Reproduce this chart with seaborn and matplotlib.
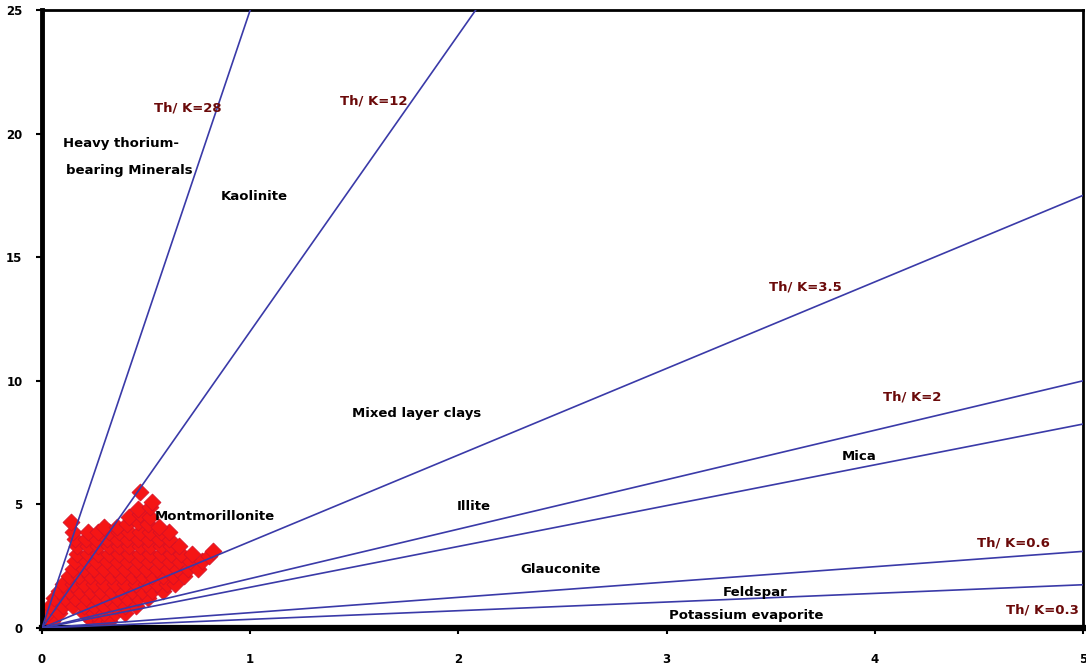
import matplotlib
matplotlib.use("Agg")
import matplotlib.pyplot as plt
import seaborn as sns
import numpy as np
import pandas as pd

# Th/K ratio reference lines
ratios = [25, 12, 3.5, 2, 1.65, 0.62, 0.35]
ratio_labels = ["Th/ K=28", "Th/ K=12", "Th/ K=3.5", "Th/ K=2", "Th/ K=0.6", "Th/ K=0.3"]
ratio_label_x = [0.54, 1.43, 3.49, 4.04, 4.49, 4.63]
ratio_label_y = [21.05, 21.3, 13.8, 9.35, 3.44, 0.73]

minerals = ["Heavy thorium-", "bearing Minerals", "Kaolinite", "Mixed layer clays", "Mica",
            "Illite", "Montmorillonite", "Glauconite", "Feldspar", "Potassium evaporite"]
mineral_x = [0.10, 0.115, 0.86, 1.49, 3.84, 1.99, 0.54, 2.30, 3.27, 3.01]
mineral_y = [19.6, 18.5, 17.45, 8.66, 6.92, 4.9, 4.53, 2.35, 1.42, 0.49]

# sample points (K %, Th ppm) read row by row
K = [0.02, 0.05, 0.24, 0.28, 0.32,
     0.03, 0.08, 0.20, 0.25, 0.30, 0.35, 0.40,
     0.04, 0.10, 0.15, 0.20, 0.25, 0.30, 0.35, 0.40, 0.45,
     0.06, 0.11, 0.16, 0.21, 0.26, 0.31, 0.36, 0.41, 0.46, 0.51,
     0.08, 0.13, 0.18, 0.23, 0.28, 0.33, 0.38, 0.43, 0.48, 0.53, 0.58,
     0.10, 0.15, 0.20, 0.25, 0.30, 0.35, 0.40, 0.45, 0.50, 0.55, 0.60, 0.64,
     0.13, 0.18, 0.23, 0.28, 0.33, 0.38, 0.43, 0.48, 0.53, 0.58, 0.63, 0.68,
     0.15, 0.20, 0.25, 0.30, 0.35, 0.40, 0.45, 0.50, 0.55, 0.60, 0.65, 0.70, 0.75,
     0.16, 0.21, 0.26, 0.31, 0.36, 0.41, 0.46, 0.51, 0.56, 0.61, 0.66, 0.71, 0.77, 0.80,
     0.17, 0.22, 0.27, 0.32, 0.37, 0.42, 0.47, 0.52, 0.57, 0.62, 0.67, 0.72, 0.82,
     0.17, 0.22, 0.27, 0.32, 0.37, 0.42, 0.47, 0.52, 0.57, 0.62, 0.66,
     0.16, 0.21, 0.26, 0.31, 0.36, 0.41, 0.46, 0.51, 0.56, 0.61,
     0.15, 0.22, 0.27, 0.32, 0.37, 0.42, 0.47, 0.52, 0.57, 0.61,
     0.14, 0.30, 0.36, 0.41, 0.46, 0.51, 0.56,
     0.42, 0.47, 0.52,
     0.46, 0.52,
     0.53,
     0.47]
Th = [0.3, 0.3, 0.3, 0.3, 0.3,
      0.6, 0.6, 0.6, 0.6, 0.6, 0.6, 0.6,
      0.9, 0.9, 0.9, 0.9, 0.9, 0.9, 0.9, 0.9, 0.9,
      1.2, 1.2, 1.2, 1.2, 1.2, 1.2, 1.2, 1.2, 1.2, 1.2,
      1.5, 1.5, 1.5, 1.5, 1.5, 1.5, 1.5, 1.5, 1.5, 1.5, 1.5,
      1.8, 1.8, 1.8, 1.8, 1.8, 1.8, 1.8, 1.8, 1.8, 1.8, 1.8, 1.8,
      2.1, 2.1, 2.1, 2.1, 2.1, 2.1, 2.1, 2.1, 2.1, 2.1, 2.1, 2.1,
      2.4, 2.4, 2.4, 2.4, 2.4, 2.4, 2.4, 2.4, 2.4, 2.4, 2.4, 2.4, 2.4,
      2.7, 2.7, 2.7, 2.7, 2.7, 2.7, 2.7, 2.7, 2.7, 2.7, 2.7, 2.7, 2.7, 2.9,
      3.0, 3.0, 3.0, 3.0, 3.0, 3.0, 3.0, 3.0, 3.0, 3.0, 3.0, 3.0, 3.1,
      3.3, 3.3, 3.3, 3.3, 3.3, 3.3, 3.3, 3.3, 3.3, 3.3, 3.3,
      3.6, 3.6, 3.6, 3.6, 3.6, 3.6, 3.6, 3.6, 3.6, 3.6,
      3.9, 3.9, 3.9, 3.9, 3.9, 3.9, 3.9, 3.9, 3.9, 3.9,
      4.3, 4.1, 4.1, 4.2, 4.3, 4.2, 4.1,
      4.5, 4.6, 4.5,
      4.8, 4.9,
      5.1,
      5.5]

sns.set_style("white")
plt.rcParams['font.family'] = ['DejaVu Sans']

fig = plt.figure(figsize=(10.86, 6.66), dpi=100)
ax = fig.add_axes([42/1086, 1 - 628/666, (1083-42)/1086, (628-10)/666])

pts = pd.DataFrame({"K": K, "Th": Th})
sns.scatterplot(data=pts, x="K", y="Th", marker="D", s=75, color="#f51515",
                edgecolor="#d01028", linewidth=0.5, ax=ax, zorder=2, legend=False)

rows = []
for r in ratios:
    for xv in (0.0, 5.0):
        rows.append({"K": xv, "Th": r * xv, "ratio": r})
lines = pd.DataFrame(rows)
sns.lineplot(data=lines, x="K", y="Th", units="ratio", estimator=None,
             color="#3a3aa8", linewidth=1.2, ax=ax, zorder=3, legend=False)

for t, x, y in zip(ratio_labels, ratio_label_x, ratio_label_y):
    ax.text(x, y, t, color="#6b0a0a", fontsize=9.5, fontweight="bold", va="center", ha="left", zorder=4)
for t, x, y in zip(minerals, mineral_x, mineral_y):
    ax.text(x, y, t, color="black", fontsize=9.5, fontweight="bold", va="center", ha="left", zorder=4)

ax.set_xlim(0, 5)
ax.set_ylim(0, 25)
ax.set_xticks([0, 1, 2, 3, 4, 5])
ax.set_yticks([0, 5, 10, 15, 20, 25])
ax.set_xlabel("")
ax.set_ylabel("")
for side, lw in [("left", 3.5), ("bottom", 4.5), ("top", 2), ("right", 2)]:
    ax.spines[side].set_visible(True)
    ax.spines[side].set_color("black")
    ax.spines[side].set_linewidth(lw)
ax.tick_params(axis="both", direction="out", length=4, width=1.5, colors="black",
               labelsize=8.5, pad=14, bottom=True, left=True)
ax.tick_params(axis="y", pad=10)
for lab in ax.get_xticklabels() + ax.get_yticklabels():
    lab.set_fontweight("bold")

fig.savefig("out.png", dpi=100, facecolor="white")
